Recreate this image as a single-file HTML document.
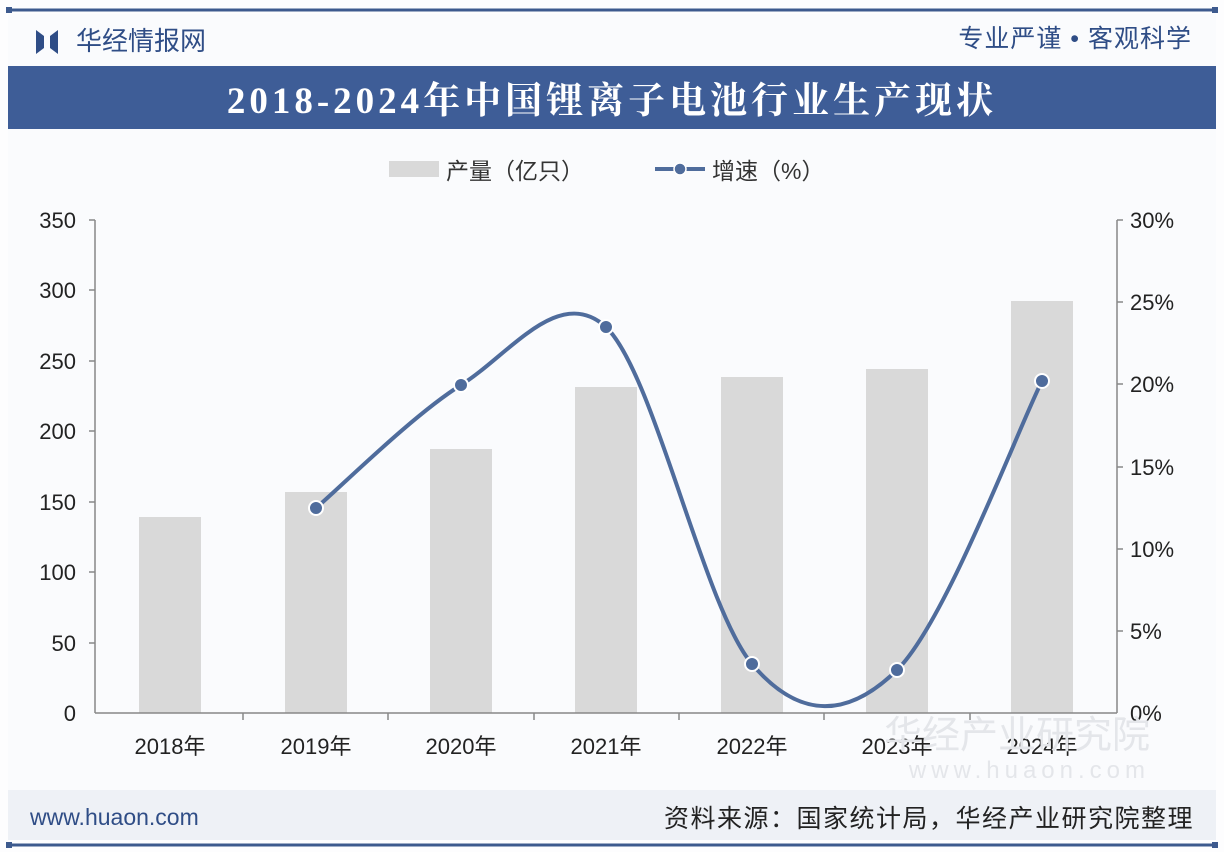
<!DOCTYPE html>
<html><head><meta charset="utf-8"><style>
body{margin:0;background:#fff;}
svg{display:block;font-family:"Liberation Sans","Noto Sans CJK SC",sans-serif;}
</style></head><body>
<svg width="1224" height="852" viewBox="0 0 1224 852">
<rect width="1224" height="852" fill="#fdfdfe"/>
<rect x="8" y="14" width="1208" height="776" fill="#fafbfd"/>
<line x1="10" y1="10" x2="1214" y2="10" stroke="#3d5a8e" stroke-width="3"/>
<rect x="6" y="7" width="6" height="6" fill="#3d5a8e"/><rect x="1212" y="7" width="6" height="6" fill="#3d5a8e"/>
<path d="M36 30 L44 36 L44 48 L36 54 Z M58 30 L50 36 L50 48 L58 54 Z" fill="#2f4d86"/>
<text x="76" y="50" font-size="26" fill="#2f4d86">华经情报网</text>
<text x="1192" y="47" font-size="25" fill="#2f4d86" text-anchor="end" letter-spacing="1">专业严谨 • 客观科学</text>
<rect x="8" y="66" width="1208" height="63" fill="#3e5d97"/>
<text x="612" y="113" font-size="37" font-weight="bold" fill="#fff" text-anchor="middle" letter-spacing="4" font-family="Liberation Serif,'Noto Serif CJK SC',serif">2018-2024年中国锂离子电池行业生产现状</text>
<!-- legend -->
<rect x="389" y="161" width="50" height="16" fill="#d9d9d9"/>
<text x="446" y="179" font-size="23" fill="#333">产量（亿只）</text>
<line x1="655" y1="169" x2="705" y2="169" stroke="#4f6c9c" stroke-width="4"/>
<circle cx="680" cy="169" r="6" fill="#4f6c9c" stroke="#fff" stroke-width="1.5"/>
<text x="712" y="179" font-size="23" fill="#333">增速（%）</text>
<!-- bars -->
<g fill="#d9d9d9">
<rect x="139" y="517" width="62" height="196"/>
<rect x="285" y="492" width="62" height="221"/>
<rect x="430" y="449" width="62" height="264"/>
<rect x="575" y="387" width="62" height="326"/>
<rect x="721" y="377" width="62" height="336"/>
<rect x="866" y="369" width="62" height="344"/>
<rect x="1011" y="301" width="62" height="412"/>
</g>
<!-- axes -->
<g stroke="#888" stroke-width="1.5">
<line x1="95" y1="220" x2="95" y2="713"/><line x1="1117" y1="220" x2="1117" y2="713"/>
<line x1="95" y1="713" x2="1117" y2="713"/>
<line x1="89" y1="220" x2="95" y2="220"/><line x1="89" y1="290" x2="95" y2="290"/><line x1="89" y1="361" x2="95" y2="361"/><line x1="89" y1="431" x2="95" y2="431"/><line x1="89" y1="502" x2="95" y2="502"/><line x1="89" y1="572" x2="95" y2="572"/><line x1="89" y1="643" x2="95" y2="643"/>
<line x1="1117" y1="220" x2="1123" y2="220"/><line x1="1117" y1="302" x2="1123" y2="302"/><line x1="1117" y1="384" x2="1123" y2="384"/><line x1="1117" y1="467" x2="1123" y2="467"/><line x1="1117" y1="549" x2="1123" y2="549"/><line x1="1117" y1="631" x2="1123" y2="631"/>
<line x1="243" y1="713" x2="243" y2="720"/><line x1="388" y1="713" x2="388" y2="720"/><line x1="534" y1="713" x2="534" y2="720"/><line x1="679" y1="713" x2="679" y2="720"/><line x1="824" y1="713" x2="824" y2="720"/><line x1="970" y1="713" x2="970" y2="720"/>
</g>
<g font-size="22" fill="#222" text-anchor="end">
<text x="76" y="228">350</text><text x="76" y="298">300</text><text x="76" y="369">250</text><text x="76" y="439">200</text><text x="76" y="510">150</text><text x="76" y="580">100</text><text x="76" y="651">50</text><text x="76" y="721">0</text>
</g>
<g font-size="22" fill="#222">
<text x="1130" y="228">30%</text><text x="1130" y="310">25%</text><text x="1130" y="392">20%</text><text x="1130" y="475">15%</text><text x="1130" y="557">10%</text><text x="1130" y="639">5%</text><text x="1130" y="721">0%</text>
</g>
<g font-size="22" fill="#222" text-anchor="middle">
<text x="170" y="754">2018年</text><text x="316" y="754">2019年</text><text x="461" y="754">2020年</text><text x="606" y="754">2021年</text><text x="752" y="754">2022年</text><text x="897" y="754">2023年</text><text x="1042" y="754">2024年</text>
</g>
<path d="M316 508 C340.2 487.5 412.7 415.2 461 385 C509.3 354.8 559 284 606 327 C654.5 373.5 703.5 606.8 752 664 C800.5 721.2 848.7 717.2 897 670 C945.3 622.8 1017.8 429.2 1042 381" fill="none" stroke="#4f6c9c" stroke-width="4"/>
<g fill="#4f6c9c" stroke="#fff" stroke-width="2">
<circle cx="316" cy="508" r="7"/><circle cx="461" cy="385" r="7"/><circle cx="606" cy="327" r="7"/><circle cx="752" cy="664" r="7"/><circle cx="897" cy="670" r="7"/><circle cx="1042" cy="381" r="7"/>
</g>
<text x="1150" y="748" font-size="38" fill="#e4e6ea" text-anchor="end">华经产业研究院</text>
<text x="1150" y="778" font-size="24" fill="#e4e6ea" text-anchor="end" letter-spacing="5">www.huaon.com</text>
<rect x="8" y="790" width="1208" height="50" fill="#eef1f6"/>
<text x="30" y="825" font-size="23" fill="#2f4d86">www.huaon.com</text>
<text x="1194" y="827" font-size="25" fill="#222" text-anchor="end" letter-spacing="1.5">资料来源：国家统计局，华经产业研究院整理</text>
<line x1="10" y1="845" x2="1214" y2="845" stroke="#3d5a8e" stroke-width="3"/>
<rect x="6" y="842" width="6" height="6" fill="#3d5a8e"/><rect x="1212" y="842" width="6" height="6" fill="#3d5a8e"/>
</svg>
</body></html>
